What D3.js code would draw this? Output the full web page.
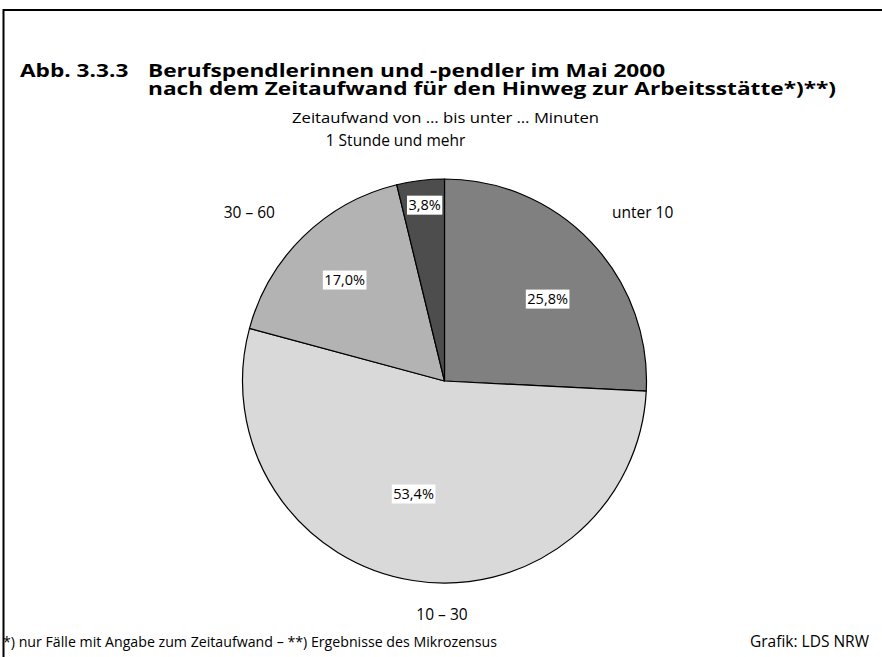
<!DOCTYPE html>
<html><head><meta charset="utf-8">
<script src="https://cdn.jsdelivr.net/npm/d3@7"></script>
<style>html,body{margin:0;padding:0;background:#fff;}svg{display:block;}</style>
</head><body>
<script>
// ---- data ----
const categories = ["unter 10", "10 – 30", "30 – 60", "1 Stunde und mehr"];
const values = [25.8, 53.4, 17.0, 3.8];
const valueLabels = ["25,8%", "53,4%", "17,0%", "3,8%"];
const titleLines = ["Berufspendlerinnen und -pendler im Mai 2000",
                    "nach dem Zeitaufwand für den Hinweg zur Arbeitsstätte*)**)"];
const titlePrefix = "Abb. 3.3.3";
const legendTitle = "Zeitaufwand von … bis unter … Minuten";
const footnote = "*) nur Fälle mit Angabe zum Zeitaufwand – **) Ergebnisse des Mikrozensus";
const credit = "Grafik: LDS NRW";

// ---- styles / layout ----
const W = 882, H = 657;
const colors = ["#808080", "#d9d9d9", "#b3b3b3", "#4d4d4d"];
const cx = 444.5, cy = 381, R = 202;
const font = "'Open Sans', 'Noto Sans', sans-serif";
// label placement: [radius fraction, angle offset deg]
const labelPlace = [[0.652, 5.1], [0.58, 6.3], [0.703, -0.4], [0.876, 0.4]];
// outer category label positions (x, y baseline, anchor)
const catPos = [[612, 218, "start"], [442, 620, "middle"], [275, 218, "end"], [395.5, 146, "middle"]];

const svg = d3.select("body").append("svg").attr("width", W).attr("height", H);
svg.append("rect").attr("width", W).attr("height", H).attr("fill", "#fff");
svg.append("rect").attr("x", 3.5).attr("y", 10).attr("width", W + 10).attr("height", H + 10)
  .attr("fill", "none").attr("stroke", "#000").attr("stroke-width", 2);

function txt(x, y, s, size, width, opts = {}) {
  const t = svg.append("text").attr("x", x).attr("y", y).attr("font-family", opts.family || font)
    .attr("font-size", size).attr("font-weight", opts.weight || "normal")
    .attr("text-anchor", opts.anchor || "start").text(s);
  if (width) t.attr("textLength", width).attr("lengthAdjust", "spacingAndGlyphs");
  return t;
}

// title
const tf = { weight: "bold", family: "'Open Sans', 'Noto Sans', sans-serif" };
const tSize = 17.5;
const t2 = txt(148, 95, titleLines[1], tSize, null, tf);
const k = 688 / t2.node().getComputedTextLength();
t2.attr("textLength", 688).attr("lengthAdjust", "spacingAndGlyphs");
const t1 = txt(148, 77, titleLines[0], tSize, null, tf);
t1.attr("textLength", t1.node().getComputedTextLength() * k).attr("lengthAdjust", "spacingAndGlyphs");
const t0 = txt(20, 77, titlePrefix, tSize, null, tf);
t0.attr("textLength", t0.node().getComputedTextLength() * k).attr("lengthAdjust", "spacingAndGlyphs");

// legend title
txt(445.5, 123, legendTitle, 15, 307, { anchor: "middle" });

// pie
const pie = d3.pie().sort(null).value(d => d)(values);
const arc = d3.arc().innerRadius(0).outerRadius(R);
const g = svg.append("g").attr("transform", `translate(${cx},${cy})`);
g.selectAll("path").data(pie).join("path")
  .attr("d", arc).attr("fill", (d, i) => colors[i])
  .attr("stroke", "#000").attr("stroke-width", 1.2).attr("stroke-linejoin", "round");

// value labels
pie.forEach((d, i) => {
  const a = (d.startAngle + d.endAngle) / 2 + labelPlace[i][1] * Math.PI / 180;
  const r = R * labelPlace[i][0];
  const x = Math.sin(a) * r, y = -Math.cos(a) * r;
  const lg = g.append("g").attr("transform", `translate(${x},${y})`);
  const t = lg.append("text").attr("text-anchor", "middle").attr("dy", "0.35em")
    .attr("font-family", font).attr("font-size", 14.5).attr("fill", "#000")
    .text(valueLabels[i]);
  const b = t.node().getBBox();
  lg.insert("rect", "text").attr("x", b.x - 1.5).attr("y", -9.5)
    .attr("width", b.width + 3).attr("height", 19).attr("fill", "#fff");
});

// category labels
categories.forEach((c, i) => {
  txt(catPos[i][0], catPos[i][1], c, 15.5, null, { anchor: catPos[i][2] });
});

// footer
txt(3, 647, footnote, 14.5, 494);
txt(869, 647, credit, 15.5, null, { anchor: "end" });
</script>
</body></html>
